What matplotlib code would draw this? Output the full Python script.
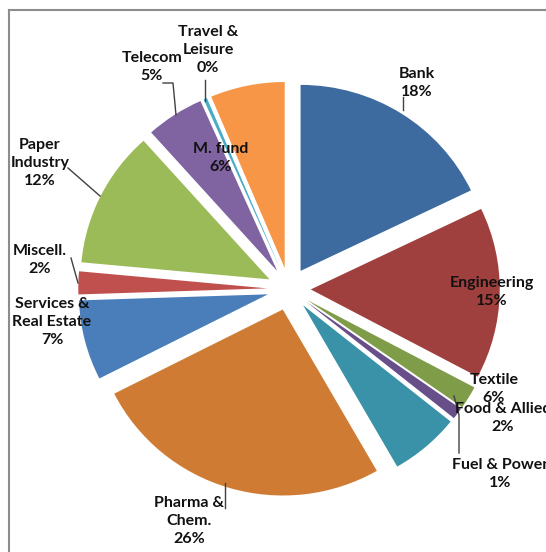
import matplotlib
matplotlib.use("Agg")
import matplotlib.pyplot as plt
from matplotlib.lines import Line2D

# ---- data (clockwise from 12 o'clock) ----
sectors = ["Bank", "Engineering", "Textile", "Food & Allied", "Fuel & Power",
           "Pharma & Chem.", "Services & Real Estate", "Miscell.",
           "Paper Industry", "Telecom", "Travel & Leisure", "M. fund"]
shares = [18, 15, 2, 1, 6, 26, 7, 2, 12, 5, 0.3, 6.4]
label_texts = ["Bank\n18%", "Engineering\n15%", "Textile\n6%", "Food & Allied\n2%",
               "Fuel & Power\n1%", "Pharma &\nChem.\n26%", "Services &\nReal Estate\n7%",
               "Miscell.\n2%", "Paper\nIndustry\n12%", "Telecom\n5%",
               "Travel &\nLeisure\n0%", "M. fund\n6%"]
colors = ["#3D6A9F", "#A0403E", "#7F9C48", "#694F8A", "#3A92A8", "#D07B33",
          "#4A7EBB", "#C0504D", "#9BBB59", "#8064A2", "#4BACC6", "#F79646"]

# ---- layout (figure pixels) ----
W, H = 546, 552
RX_PX, RY_PX = 189.0, 186.0
CX, CY = 289, 289
EXPLODE = 0.115
label_pos = [(417, 83), (492, 292), (494, 389), (503, 418), (500, 474),
             (189, 521), (52, 322), (40, 260), (40, 163), (152, 67),
             (208, 50), (221, 158)]
leaders = [
    [(403, 97), (403, 110)],
    None, None, None,
    [(454, 396), (459, 415), (459, 453)],
    [(225, 483), (225, 508)],
    None,
    [(71, 258), (78, 283)],
    [(68, 168), (100, 196)],
    [(163, 83), (173, 83), (176, 115)],
    [(205, 80), (205, 101)],
    None,
]

fig = plt.figure(figsize=(W / 100, H / 100), dpi=100)
ax = fig.add_axes([0, 0, 1, 1])

ax.pie(shares, colors=colors, startangle=90, counterclock=False,
       explode=[EXPLODE] * len(shares), radius=1.0,
       wedgeprops=dict(linewidth=0))
ax.set_aspect("auto")
ax.set_xlim(-CX / RX_PX, (W - CX) / RX_PX)
ax.set_ylim(-(H - CY) / RY_PX, CY / RY_PX)
ax.axis("off")

def fx(p):
    return p[0] / W, 1 - p[1] / H

for txt, pos in zip(label_texts, label_pos):
    x, y = fx(pos)
    fig.text(x, y, txt, ha="center", va="center", fontsize=11.5,
             fontweight="bold", family="Lato", color="#111111",
             linespacing=1.4)

for ld in leaders:
    if ld:
        xs = [p[0] / W for p in ld]
        ys = [1 - p[1] / H for p in ld]
        fig.add_artist(Line2D(xs, ys, transform=fig.transFigure,
                              color="#404040", lw=1))

# chart border (top and left visible)
fig.add_artist(Line2D([9 / W, 1], [1 - 10 / H, 1 - 10 / H],
                      transform=fig.transFigure, color="#8c8c8c", lw=1.5))
fig.add_artist(Line2D([9 / W, 9 / W], [0, 1 - 10 / H],
                      transform=fig.transFigure, color="#8c8c8c", lw=1.5))

fig.savefig("out.png", dpi=100)
